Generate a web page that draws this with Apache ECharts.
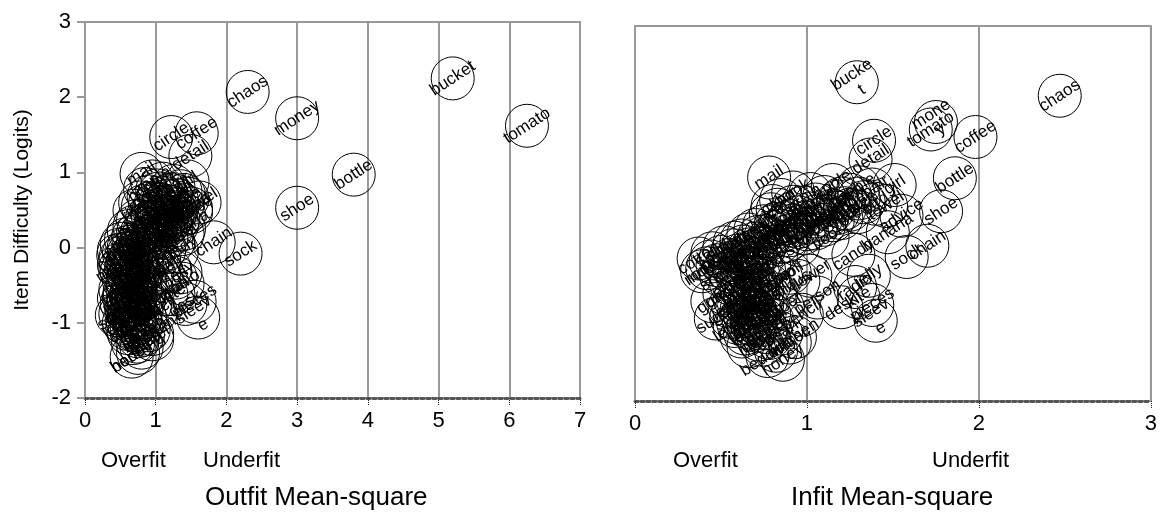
<!DOCTYPE html>
<html>
<head>
<meta charset="utf-8">
<script src="https://cdn.jsdelivr.net/npm/echarts@6/dist/echarts.min.js"></script>
<style>
html,body{margin:0;padding:0;background:#fff;}
#chart{width:1160px;height:515px;}
</style>
</head>
<body>
<div id="chart"></div>
<script>
// ---- data: item name, difficulty (logits), outfit MnSq, infit MnSq ----
const names = [
 'chaos','bucket','tomato','money','bottle','shoe','coffee','circle','detail','chain','sock',
 'mail','girl','towel','advice','banana','candy','jelly','desk','pieces','sleeve','flower',
 'person','pencil','kitchen','kiss','bedding','sugar','gum','rope','cotton',
 'apple','table','chair','book','pen','cup','hat','door','tree','house','car','bird',
 'fish','dog','cat','milk','bread','egg','rice','salt','soap','bed','lamp','clock','key','box','bag','coat',
 'shirt','ring','spoon','fork','knife','plate','bowl','glass','window','wall','floor','road','river','hill','sun','moon',
 'star','rain','snow','wind','fire','stone','sand','leaf','rose','grass','horse','cow','pig','duck','frog','bee',
 'ant','mouse','lion','bear','wolf','goat','sheep','boat','ship','train','bus','bike','plane','phone','radio','movie',
 'music','song','game','ball','doll','kite','toy','drum','bell','flag','map','letter','paper','card','photo','gift',
 'cake','soup','meat','fruit','pear','grape','lemon','peach','corn','bean','tea','juice','water','ice','oil','honey',
 'pin','net','cap','jar','pot','mat','rug','fan','sofa','vase',
 'sink','tub','comb','brush','belt','boot','glove','scarf',
 'tie','vest','skirt','dress','jeans','purse','wallet','watch','nest','cloud','lake','sea'
];
const difficulty = [
 2.07,2.25,1.62,1.72,0.97,0.53,1.52,1.47,1.22,0.07,-0.08,
 0.98,0.88,0.60,0.47,0.25,-0.05,-0.33,-0.75,-0.72,-0.93,-0.33,
 -0.62,-0.85,-1.15,-1.10,-1.40,-0.90,-0.67,-0.27,-0.10,
 0.88,0.85,0.82,0.78,0.75,0.72,0.70,0.68,0.65,0.62,0.60,0.63,
 0.58,0.57,0.55,0.54,0.52,0.50,0.49,0.47,0.45,0.44,0.42,0.40,0.38,0.37,0.36,0.35,
 0.33,0.32,0.30,0.28,0.27,0.25,0.24,0.22,0.21,0.19,0.18,0.16,0.14,0.13,0.11,0.10,
 0.08,0.06,0.05,0.03,0.01,-0.01,-0.03,-0.04,-0.06,-0.08,-0.10,-0.12,-0.14,-0.16,-0.18,-0.19,
 -0.21,-0.23,-0.25,-0.27,-0.29,-0.30,-0.32,-0.34,-0.36,-0.38,-0.40,-0.42,-0.44,-0.46,-0.48,-0.49,
 -0.52,-0.54,-0.56,-0.58,-0.60,-0.62,-0.64,-0.66,-0.68,-0.70,-0.72,-0.74,-0.76,-0.78,-0.80,-0.83,
 -0.86,-0.88,-0.90,-0.93,-0.96,-0.98,-1.00,-1.03,-1.06,-1.10,-1.14,-1.18,-1.22,-1.27,-1.33,-1.45,
 0.76,0.70,0.66,0.59,0.55,0.51,0.46,0.41,0.34,0.29,
 0.20,0.12,0.02,-0.07,-0.15,-0.24,-0.35,-0.45,
 -0.53,-0.59,-0.65,-0.71,-0.77,-0.82,-0.89,-0.95,-1.02,-1.08,-1.16,-1.25
];
const outfit = [
 2.30,5.20,6.25,3.00,3.80,3.00,1.58,1.22,1.49,1.82,2.20,
 0.80,1.45,1.62,1.50,1.40,1.30,1.35,1.42,1.55,1.60,1.05,
 1.15,1.00,0.95,0.70,0.75,0.45,0.48,0.50,0.47,
 0.95,1.10,1.25,0.85,1.35,1.05,1.20,0.90,1.45,1.15,0.78,1.30,
 1.00,1.38,0.82,1.22,1.50,1.08,0.70,1.28,0.95,1.40,1.15,0.88,1.32,1.02,0.75,1.20,
 0.90,1.10,1.30,0.70,1.00,0.85,1.22,0.62,1.05,0.80,1.38,0.95,0.68,1.15,0.58,0.88,
 1.25,0.75,0.52,1.00,0.62,0.85,0.48,1.12,0.70,0.55,0.92,0.65,0.50,0.80,1.05,0.60,
 0.72,0.48,0.88,0.58,1.20,0.66,0.52,0.80,0.95,0.62,1.28,0.74,0.55,0.85,1.38,0.68,
 0.60,0.78,0.50,0.90,0.66,1.25,0.72,0.55,0.84,0.62,0.76,0.52,0.92,0.68,0.58,0.80,
 0.64,0.50,0.74,0.85,0.60,0.70,0.55,0.80,0.66,0.90,0.62,0.75,0.95,0.68,0.80,0.66,
 1.02,1.40,1.12,0.92,1.18,1.30,1.05,1.24,1.00,1.15,
 0.75,0.98,0.78,0.62,0.72,0.62,0.70,0.60,
 0.70,0.56,0.82,0.68,0.60,0.72,0.62,0.78,0.70,0.60,0.82,0.74
];
const infit = [
 2.47,1.29,1.72,1.75,1.86,1.78,1.98,1.39,1.37,1.70,1.58,
 0.78,1.51,1.46,1.55,1.47,1.27,1.36,1.20,1.38,1.40,1.02,
 1.06,0.97,0.93,0.64,0.77,0.47,0.45,0.39,0.37,
 1.15,1.30,1.38,0.92,1.25,1.10,1.20,0.85,1.33,1.05,0.80,1.40,
 0.98,1.22,0.83,1.15,1.30,1.02,0.79,1.12,0.95,1.20,1.08,0.90,1.00,0.88,0.82,1.10,
 0.75,0.95,1.05,0.70,0.85,0.80,0.98,0.66,0.90,0.72,1.12,0.78,0.62,0.88,0.58,0.70,
 0.95,0.63,0.52,0.75,0.57,0.68,0.45,0.82,0.60,0.50,0.70,0.55,0.44,0.65,0.78,0.48,
 0.62,0.42,0.75,0.55,0.90,0.66,0.50,0.72,0.85,0.60,0.95,0.70,0.56,0.78,1.28,0.65,
 0.62,0.74,0.52,0.82,0.68,1.30,0.58,0.60,0.76,0.66,0.72,0.55,0.86,0.62,0.70,0.78,
 0.64,0.56,0.74,0.80,0.60,0.68,0.58,0.76,0.70,0.85,0.62,0.72,0.90,0.66,0.82,0.86,
 1.02,1.30,1.18,0.92,1.25,1.18,1.05,1.15,0.92,1.00,
 0.76,0.84,0.66,0.64,0.58,0.68,0.62,0.72,
 0.70,0.64,0.68,0.74,0.66,0.70,0.68,0.70,0.66,0.76,0.78,0.74
];
// labels that wrap inside the bubbles
const outfitWrap = { sleeve: 'sleev\ne' };
const infitWrap = { bucket: 'bucke\nt', money: 'mone\ny', sleeve: 'sleev\ne' };

const outfitTicks = [0,1,2,3,4,5,6,7];
const infitTicks = [0,1,2,3];
const diffTicks = [-2,-1,0,1,2,3];

const FONT = "'Liberation Sans', Arial, sans-serif";

const leftData = names.map((n,i)=>[outfit[i], difficulty[i], outfitWrap[n] || n]);
const rightData = names.map((n,i)=>[infit[i], difficulty[i], infitWrap[n] || n]);

const chart = echarts.init(document.getElementById('chart'), null, {renderer:'canvas'});

function xAxisCfg(gridIndex, ticks){
  return {
    type:'value', gridIndex, min:ticks[0], max:ticks[ticks.length-1], interval:1,
    axisLine:{show:true, onZero:false, lineStyle:{color:'#555', width:3, type:'dotted'}},
    axisTick:{show:true, length:8, lineStyle:{color:'#222', width:1, type:'dotted'}},
    axisLabel:{color:'#000', fontSize:22, fontFamily:FONT, margin:12},
    splitLine:{show:true, lineStyle:{color:'#999', width:2}}
  };
}
function seriesCfg(idx, data){
  return {
    type:'scatter', xAxisIndex:idx, yAxisIndex:idx, data,
    symbol:'circle', symbolSize:43,
    itemStyle:{color:'rgba(0,0,0,0)', borderColor:'#000', borderWidth:1, opacity:1},
    emphasis:{disabled:true},
    label:{show:true, position:'inside', rotate:33, color:'#000', fontSize:17, fontFamily:FONT,
      lineHeight:18, formatter:p=>p.data[2]},
    animation:false
  };
}

chart.setOption({
  animation:false,
  backgroundColor:'#fff',
  grid:[
    {left:85, right:580, top:22, bottom:117, show:true, borderColor:'#999', borderWidth:2},
    {left:635, right:0, top:26, bottom:114, show:true, borderColor:'#999', borderWidth:2}
  ],
  xAxis:[ xAxisCfg(0, outfitTicks), xAxisCfg(1, infitTicks) ],
  yAxis:[
    {type:'value', gridIndex:0, min:diffTicks[0], max:diffTicks[diffTicks.length-1], interval:1,
     name:'Item Difficulty (Logits)', nameLocation:'middle', nameGap:52, nameRotate:90,
     nameTextStyle:{color:'#000', fontSize:21, fontFamily:FONT},
     axisLine:{show:true, lineStyle:{color:'#999', width:2}},
     axisTick:{show:true, length:8, lineStyle:{color:'#999', width:2}},
     axisLabel:{color:'#000', fontSize:22, fontFamily:FONT, margin:14},
     splitLine:{show:false}},
    {type:'value', gridIndex:1, min:diffTicks[0], max:diffTicks[diffTicks.length-1], interval:1,
     axisLine:{show:true, lineStyle:{color:'#999', width:2}},
     axisTick:{show:false}, axisLabel:{show:false}, splitLine:{show:false}}
  ],
  series:[ seriesCfg(0, leftData), seriesCfg(1, rightData) ],
  graphic:[
    {type:'text', left:101, top:450, style:{text:'Overfit', fill:'#000', font:"22px 'Liberation Sans', Arial, sans-serif"}},
    {type:'text', left:203, top:450, style:{text:'Underfit', fill:'#000', font:"22px 'Liberation Sans', Arial, sans-serif"}},
    {type:'text', left:205, top:485, style:{text:'Outfit Mean-square', fill:'#000', font:"26px 'Liberation Sans', Arial, sans-serif"}},
    {type:'text', left:673, top:450, style:{text:'Overfit', fill:'#000', font:"22px 'Liberation Sans', Arial, sans-serif"}},
    {type:'text', left:932, top:450, style:{text:'Underfit', fill:'#000', font:"22px 'Liberation Sans', Arial, sans-serif"}},
    {type:'text', left:791, top:485, style:{text:'Infit Mean-square', fill:'#000', font:"26px 'Liberation Sans', Arial, sans-serif"}}
  ]
});
</script>
</body>
</html>
